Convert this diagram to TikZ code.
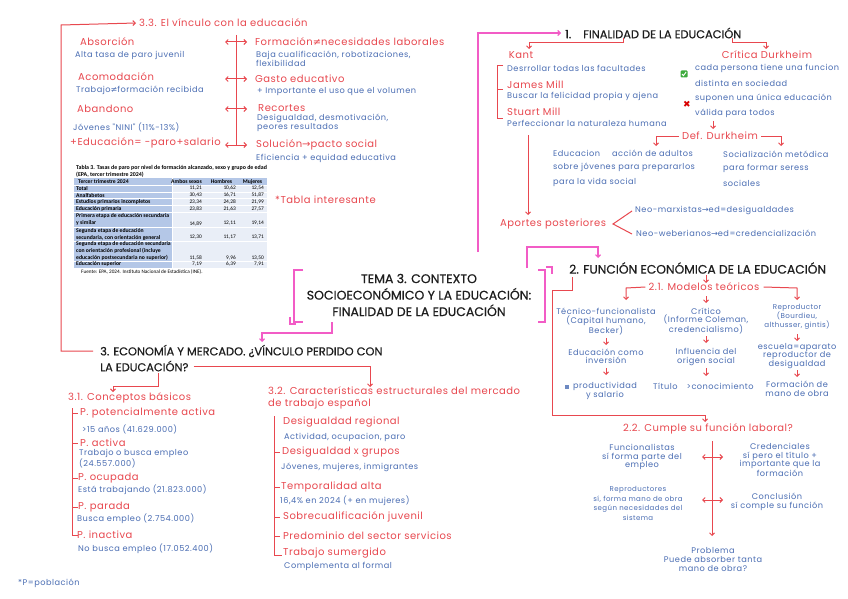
\documentclass[tikz,border=0pt]{standalone}
\usepackage{fontspec}
\setmainfont{Poppins}
\newfontfamily\tabfont{Carlito}
\newfontfamily\symfont{DejaVu Sans}
\newfontfamily\blfont{Poppins}[LetterSpace=6]
\newfontfamily\rdfont{Poppins}[LetterSpace=5]
\newfontfamily\hdfont{Poppins}[FakeBold=0.6]
\usetikzlibrary{arrows.meta}
\definecolor{rd}{HTML}{E8484F}
\definecolor{bl}{HTML}{4A6DB3}
\definecolor{pk}{HTML}{F25CC6}
\definecolor{hk}{HTML}{1E1E1E}
\definecolor{tb}{HTML}{B4C7E7}
\definecolor{tl}{HTML}{E9EEF7}
\definecolor{gk}{HTML}{3DAA3D}
\newcommand{\neqs}{{\symfont ≠}}
\newcommand{\toar}{{\symfont →}}
\tikzset{
  rt/.style={anchor=west,inner sep=0pt,text=rd,font=\rdfont\fontsize{10}{11.5}\selectfont},
  bt/.style={anchor=west,inner sep=0pt,text=bl,font=\blfont\fontsize{8.2}{9.2}\selectfont},
  btc/.style={bt,anchor=center,align=center},
  hd/.style={anchor=west,inner sep=0pt,text=hk,font=\hdfont\fontsize{11.4}{13}\selectfont},
  rl/.style={draw=rd,line width=1pt},
  pl/.style={draw=pk,line width=1.1pt},
  arr/.style={-{Straight Barb[length=2.5pt,width=5pt]}},
  darr/.style={{Straight Barb[length=2.5pt,width=5pt]}-{Straight Barb[length=2.5pt,width=5pt]}},
  tt/.style={anchor=west,inner sep=0pt,text=black,font=\tabfont\bfseries\fontsize{5.7}{7}\selectfont},
  tn/.style={tt,anchor=east,font=\tabfont\fontsize{5.4}{6}\selectfont},
}
\begin{document}
\begin{tikzpicture}[x=1pt,y=-1pt]
\useasboundingbox[fill=white] (0,0) rectangle (848,599);

% ---------------- 3.3 ----------------
\node[rt] (t33) at (139,23) {3.3. El vínculo con la educación};
\node[rt] (abs) at (80,42) {Absorción};
\node[bt] (absd) at (75,55) {Alta tasa de paro juvenil};
\node[rt] (aco) at (78,77) {Acomodación};
\node[bt] (acod) at (76,90) {Trabajo\neqs formación recibida};
\node[rt] (aba) at (77,109) {Abandono};
\node[bt] (abad) at (73,127) {Jóvenes "NINI" (11\%-13\%)};
\node[rt] (edu) at (70,143) {+Educación= -paro+salario};

\node[rt] (for) at (255,42) {Formación\neqs necesidades laborales};
\node[bt,align=left] (ford) at (256,59) {Baja cualificación, robotizaciones,\\flexibilidad};
\node[rt] (gas) at (255,79) {Gasto educativo};
\node[bt] (gasd) at (257,92) {+ Importante el uso que el volumen};
\node[rt] (rec) at (258,108) {Recortes};
\node[bt,align=left] (recd) at (257,122.5) {Desigualdad, desmotivación,\\peores resultados};
\node[rt] (sol) at (256,145) {Solución\toar pacto social};
\node[bt] (sold) at (256,158) {Eficiencia + equidad educativa};

\coordinate (vt) at (236,35);
\coordinate (vb) at (236,146);
\draw[rl] (vt) -- (vb);
\foreach \yy/\nm in {42/a,79/b,109/c,145/d}{
  \coordinate (dl\nm) at (225,\yy);
  \coordinate (dr\nm) at (247,\yy);
  \draw[rl,darr] (dl\nm) -- (dr\nm);
}

% ---------------- table ----------------
\fill[tb] (74,178) rectangle (267,185);
\fill[tb] (74,185) rectangle (172,267.5);
\fill[tl] (172,185) rectangle (267,267.5);
\foreach \yy in {185,192,198.5,205.5,212.5,227,241,261}{
  \draw[white,line width=0.6pt] (74,\yy) -- (267,\yy);
}
\draw[white,line width=0.4pt] (172,178) -- (172,267.5);
\node[tt,font=\tabfont\bfseries\fontsize{5.9}{7}\selectfont] (tabt) at (76,168) {Tabla 3. Tasas de paro por nivel de formación alcanzado, sexo y grupo de edad};
\node[tt,font=\tabfont\bfseries\fontsize{5.9}{7}\selectfont] (tabs) at (76,175) {(EPA, tercer trimestre 2024)};
\node[tt] (th0) at (78,181.5) {Tercer trimestre 2024};
\node[tt,anchor=center] (th1) at (186.5,181.5) {Ambos sexos};
\node[tt,anchor=center] (th2) at (221.5,181.5) {Hombres};
\node[tt,anchor=center] (th3) at (252.5,181.5) {Mujeres};
\node[tt] (r1) at (76,188.5) {Total};
\node[tt] (r2) at (76,195.2) {Analfabetos};
\node[tt] (r3) at (76,202) {Estudios primarios incompletos};
\node[tt] (r4) at (76,209) {Educación primaria};
\node[tt,align=left] (r5) at (76,219.8) {Primera etapa de educación secundaria\\y similar};
\node[tt,align=left] (r6) at (76,234) {Segunda etapa de educación\\secundaria, con orientación general};
\node[tt,align=left] (r7) at (76,251) {Segunda etapa de educación secundaria\\con orientación profesional (incluye\\educación postsecundaria no superior)};
\node[tt] (r8) at (76,264.2) {Educación superior};
\foreach \yy/\a/\b/\c/\nm in {188.5/11{,}21/10{,}62/12{,}54/1,195.2/30{,}43/16{,}71/51{,}87/2,202/23{,}34/24{,}28/21{,}99/3,209/23{,}83/21{,}63/27{,}57/4,223.5/14{,}89/12{,}11/19{,}14/5,237.5/12{,}30/11{,}17/13{,}71/6,258/11{,}58/9{,}96/13{,}50/7,264.2/7{,}19/6{,}39/7{,}91/8}{
  \node[tn] (na\nm) at (202,\yy) {\a};
  \node[tn] (nb\nm) at (236,\yy) {\b};
  \node[tn] (nc\nm) at (264,\yy) {\c};
}
\node[tt,font=\tabfont\fontsize{5.2}{6}\selectfont] (fte) at (81,272) {Fuente: EPA, 2024. Instituto Nacional de Estadística (INE).};

\node[rt] (tint) at (275,200) {*Tabla interesante};

% ---------------- TEMA ----------------
\node[anchor=center,inner sep=0pt,text=hk,align=center,font=\hdfont\fontsize{12.5}{16.5}\selectfont] (tema) at (419,295) {TEMA 3. CONTEXTO\\SOCIOECONÓMICO Y LA EDUCACIÓN:\\FINALIDAD DE LA EDUCACIÓN};
\draw[pl] (303,270) -- (294,270) -- (294,322) -- (303,322);
\draw[pl] (290,317) -- (290,324) -- (296,324);
\draw[pl] (538,270) -- (545,270) -- (545,322) -- (538,322);
\draw[pl] (546,267) -- (552,267) -- (552,274);

% ---------------- headings ----------------
\node[hd] (h1) at (565,33) {1.\hspace{12pt}FINALIDAD DE LA EDUCACIÓN};
\node[hd,font=\hdfont\fontsize{12.3}{13}\selectfont] (h2) at (569,268) {2. FUNCIÓN ECONÓMICA DE LA EDUCACIÓN};
\node[hd] (h3a) at (100,351) {3. ECONOMÍA Y MERCADO. ¿VÍNCULO PERDIDO CON};
\node[hd] (h3b) at (100,366) {LA EDUCACIÓN?};

% pink connectors
\coordinate (p1) at (478,252);
\draw[pl,arr] (p1) -- (478,33) -- ([xshift=-4pt]h1.west);
\coordinate (p2) at (527,268);
\draw[pl,arr] (p2) -- (527,247) -- (598,247) -- (598,258);
\coordinate (p3) at (332,322);
\draw[pl,arr] (p3) -- (332,333) -- (262,333) -- (262,342);

% red from 3 to 3.3
\draw[rl,arr] ([xshift=-7pt]h3a.west) -- (61,351) -- (61,25) -- ([xshift=-3pt]t33.west);

% ---------------- 1. Finalidad ----------------
\node[rt,anchor=center] (kant) at (521,55) {Kant};
\node[rt,anchor=center] (crit) at (767,55) {Crítica Durkheim};
\draw[rl,arr] (623,38) -- (623,43) -- (529,43) -- (529,49);
\draw[rl,arr] (732,38) -- (732,43) -- (766,43) -- (766,49);

\node[bt] (k1) at (507,68) {Desrrollar todas las facultades};
\node[rt] (jm) at (507,85) {James Mill};
\node[bt] (k2) at (507,96) {Buscar la felicidad propia y ajena};
\node[rt] (sm) at (507,112) {Stuart Mill};
\node[bt] (k3) at (507,123) {Perfeccionar la naturaleza humana};
\draw[rl] (503,66) -- (497,66) -- (497,119) -- (503,119);
\draw[rl] (497,90) -- (503,90);

\node[fill=gk,rounded corners=1pt,minimum size=7pt,inner sep=0pt] (chk) at (684,74) {};
\draw[white,line width=0.9pt] ([shift={(-2,0)}]chk.center) -- ([shift={(-0.6,1.7)}]chk.center) -- ([shift={(2.1,-2)}]chk.center);
\node[inner sep=0pt,text=red!85!black,font=\symfont\fontsize{9}{9}\selectfont] (crs) at (687,104) {✖};
\node[bt] (c1) at (695,68) {cada persona tiene una funcion};
\node[bt] (c2) at (695,83) {distinta en sociedad};
\node[bt] (c3) at (695,98) {suponen una única educación};
\node[bt] (c4) at (695,113) {válida para todos};

\node[rt,anchor=center] (def) at (720,136) {Def. Durkheim};
\draw[rl,arr] (713,121) -- (713,129);
\draw[rl,arr] ([xshift=-3pt]def.west) -- (656,136) -- (656,146);
\draw[rl,arr] ([xshift=3pt]def.east) -- (781,136) -- (781,146);
\node[bt] (d1) at (553,153) {Educacion\hspace{12pt}acción de adultos};
\node[bt] (d2) at (553,167) {sobre jóvenes para prepararlos};
\node[bt] (d3) at (553,182) {para la vida social};
\node[bt] (d4) at (723,154) {Socialización metódica};
\node[bt] (d5) at (723,168) {para formar seress};
\node[bt] (d6) at (723,183) {sociales};

\node[rt] (aport) at (500,224) {Aportes posteriores};
\draw[rl,arr] (528,135) -- (528,215);
\coordinate (vx) at (613,224);
\draw[rl] (632,211) -- (vx) -- (632,234);
\node[bt] (nm) at (635,210) {Neo-marxistas\toar ed=desigualdades};
\node[bt] (nw) at (636,233) {Neo-weberianos\toar ed=credencialización};

% ---------------- 2. Función ----------------
\node[rt,anchor=center] (mod) at (704,287) {2.1. Modelos teóricos};
\draw[rl,arr] (706,275) -- (706,283);
\draw[rl,arr] ([xshift=-3pt]mod.west) -- (626,288) -- (626,300);
\draw[rl,arr] ([xshift=4pt]mod.east) -- (797,288) -- (797,300);
\draw[rl,arr] (706,296) -- (706,303);

\node[btc,font=\blfont\fontsize{8.2}{8.3}\selectfont] (tf) at (606,322) {Técnico-funcionalista\\(Capital humano,\\Becker)};
\draw[rl,arr] (606,338) -- (606,345);
\node[btc,font=\blfont\fontsize{8.2}{8.3}\selectfont] (ei) at (606,356) {Educación como\\inversión};
\draw[rl,arr] (606,368) -- (606,375);
\node[btc,font=\blfont\fontsize{8.2}{8.3}\selectfont] (ps) at (605,391) {productividad\\y salario};
\node[fill=bl!80,minimum width=3.5pt,minimum height=4.5pt,inner sep=0pt] (bx) at (567,387) {};

\node[btc,font=\blfont\fontsize{8.2}{8.3}\selectfont] (cr) at (706,321) {Crítico\\(Informe Coleman,\\credencialismo)};
\draw[rl,arr] (706,336) -- (706,343);
\node[btc,font=\blfont\fontsize{8.2}{8.3}\selectfont] (io) at (706,357) {Influencia del\\origen social};
\draw[rl,arr] (706,368) -- (706,376);
\node[bt] (tc) at (653,386) {Título\hspace{9pt}>conocimiento};

\node[btc,font=\blfont\fontsize{7.1}{9.3}\selectfont] (rp) at (797,317) {Reproductor\\(Bourdieu,\\althusser, gintis)};
\draw[rl,arr] (797,334) -- (797,341);
\node[btc,font=\blfont\fontsize{8.2}{8.6}\selectfont] (ea) at (797,356) {escuela=aparato\\reproductor de\\desigualdad};
\draw[rl,arr] (797,370) -- (797,377);
\node[btc,font=\blfont\fontsize{8.2}{8.6}\selectfont] (fm) at (797,389) {Formación de\\mano de obra};

% 2.2
\draw[rl,arr] (572,277) -- (572,290) -- (552,290) -- (552,415) -- (705,415) -- (705,422);
\node[rt,anchor=center] (cum) at (708,429) {2.2. Cumple su función laboral?};
\draw[rl,arr] (712,441) -- (712,536);
\draw[rl,darr] (702,457) -- (723,457);
\draw[rl,darr] (702,500) -- (723,500);
\node[btc,font=\blfont\fontsize{8.2}{8.6}\selectfont] (fu) at (642,457) {Funcionalistas\\sí forma parte del\\empleo};
\node[btc,font=\blfont\fontsize{8.2}{8.6}\selectfont] (cd) at (780,460) {Credenciales\\sí pero el título +\\importante que la\\formación};
\node[btc,font=\blfont\fontsize{7}{9.6}\selectfont] (re) at (638,503.5) {Reproductores\\sí, forma mano de obra\\según necesidades del\\sistema};
\node[btc,font=\blfont\fontsize{8.2}{9}\selectfont] (co) at (777,501.5) {Conclusión\\sí comple su función};
\node[btc,font=\blfont\fontsize{8.2}{8.6}\selectfont] (pb) at (713,559.5) {Problema\\Puede absorber tanta\\mano de obra?};

% ---------------- 3. Economía ----------------
\draw[rl,arr] ([xshift=5pt]h3b.east) -- (370,366) -- (370,387);
\draw[rl,arr] (158,373) -- (158,386) -- (113,386) -- (113,392);

\node[rt] (c31) at (68,398) {3.1. Conceptos básicos};
\draw[rl] (72,408) -- (72,535) -- (78,535);
\foreach \yy in {413,443,478,507}{ \draw[rl] (72,\yy) -- (78,\yy); }
\node[rt] (pa) at (80,413) {P. potencialmente activa};
\node[bt] (pad) at (82,429) {>15 años (41.629.000)};
\node[rt] (pac) at (80,443) {P. activa};
\node[bt,align=left] (pacd) at (79,459) {Trabajo o busca empleo\\(24.557.000)};
\node[rt] (po) at (78,478) {P. ocupada};
\node[bt] (pod) at (78,490) {Está trabajando (21.823.000)};
\node[rt] (pp) at (78,507) {P. parada};
\node[bt] (ppd) at (77,519) {Busca empleo (2.754.000)};
\node[rt] (pi) at (77,535) {P. inactiva};
\node[bt] (pid) at (78,549) {No busca empleo (17.052.400)};
\node[bt] (pnote) at (18,583) {*P=población};

\node[rt,align=left] (c32) at (268,398) {3.2. Características estructurales del mercado\\de trabajo español};
\draw[rl] (274,416) -- (274,555) -- (282,555);
\foreach \yy in {452,487,517,536}{ \draw[rl] (274,\yy) -- (280,\yy); }
\node[rt] (dr) at (283,422) {Desigualdad regional};
\node[bt] (drd) at (284,437) {Actividad, ocupacion, paro};
\node[rt] (dg) at (282,452) {Desigualdad x grupos};
\node[bt] (dgd) at (281,467) {Jóvenes, mujeres, inmigrantes};
\node[rt] (ta) at (281,487) {Temporalidad alta};
\node[bt] (tad) at (280,501) {16,4\% en 2024 (+ en mujeres)};
\node[rt] (sj) at (283,517) {Sobrecualificación juvenil};
\node[rt] (ps2) at (283,536) {Predominio del sector servicios};
\node[rt] (ts) at (283,553) {Trabajo sumergido};
\node[bt] (tsd) at (284,566) {Complementa al formal};
\end{tikzpicture}
\end{document}
